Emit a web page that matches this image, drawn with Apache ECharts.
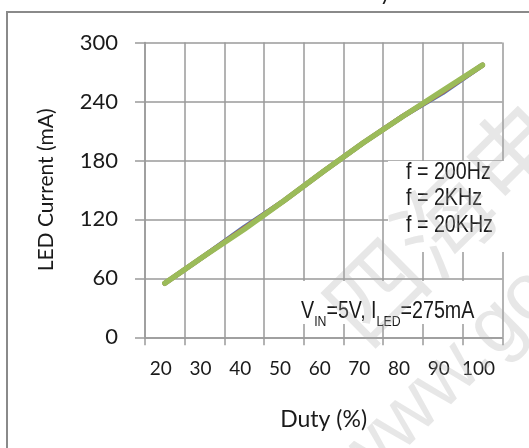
<!DOCTYPE html>
<html>
<head>
<meta charset="utf-8">
<script src="https://cdn.jsdelivr.net/npm/echarts@6/dist/echarts.min.js"></script>
<style>html,body{margin:0;padding:0;background:#fff;}#c{width:529px;height:448px;}</style>
</head>
<body>
<div id="c"></div>
<script>
const dutyLabels = ['20','30','40','50','60','70','80','90','100'];
const duty = [20,30,40,50,60,70,80,90,100];
const f200Hz = [55,83,112,139,169,198,225,249,277];
const f2KHz  = [55,83,111,139,169,198,225,250,277];
const f20KHz = [55,83,110,139,169,198,225,251,277];
const yTicks = {min:0, max:300, interval:60};
const seriesNames = ['f = 200Hz','f = 2KHz','f = 20KHz'];

const chart = echarts.init(document.getElementById('c'));
const pair = arr => duty.map((d,i)=>[d,arr[i]]);
const gridColor = '#9a9a9a';
const lab = {fontFamily:'Lato', color:'#1a1a1a'};
const arial = '"Liberation Sans",Arial,sans-serif';
const sx = 0.82;

chart.setOption({
  animation:false,
  grid:{left:145, right:26.7, top:42.5, bottom:110.7},
  xAxis:[{
    type:'category', data:dutyLabels, boundaryGap:true,
    name:'Duty (%)', nameLocation:'middle', nameGap:71,
    nameTextStyle:Object.assign({fontSize:23},lab),
    axisLine:{show:true, lineStyle:{color:gridColor, width:1.5}},
    axisTick:{show:true, length:8, lineStyle:{color:gridColor, width:1.5}},
    splitLine:{show:true, lineStyle:{color:gridColor, width:1.5}},
    axisLabel:Object.assign({fontSize:19, margin:22, interval:0, padding:[0,8,0,0]},lab)
  },{
    type:'value', min:15, max:105, show:false
  }],
  yAxis:{
    type:'value', min:yTicks.min, max:yTicks.max, interval:yTicks.interval,
    name:'LED Current (mA)', nameLocation:'middle', nameGap:88, nameRotate:90,
    nameTextStyle:Object.assign({fontSize:21},lab),
    axisLine:{show:true, lineStyle:{color:gridColor, width:1.5}},
    axisTick:{show:true, length:10, lineStyle:{color:gridColor, width:1.5}},
    splitLine:{show:true, lineStyle:{color:gridColor, width:1.5}},
    axisLabel:Object.assign({fontSize:22, margin:27},lab)
  },
  series:[
    {name:seriesNames[0], type:'line', xAxisIndex:1, data:pair(f200Hz), symbol:'none',
     lineStyle:{color:'#4F81BD', width:5, cap:'round'}},
    {name:seriesNames[1], type:'line', xAxisIndex:1, data:pair(f2KHz), symbol:'none',
     lineStyle:{color:'#C0504D', width:5, cap:'round'}},
    {name:seriesNames[2], type:'line', xAxisIndex:1, data:pair(f20KHz), symbol:'none',
     lineStyle:{color:'#9BBB59', width:5.5, cap:'round'}}
  ],
  graphic:[
    {type:'rect', z:100, shape:{x:7, y:12, width:560, height:470}, style:{fill:'none', stroke:'#8a8a8a', lineWidth:2}},
    {type:'text', z:100, x:391, y:-7, style:{text:'LED Current vs Duty', fontSize:22, fontFamily:'Lato', fill:'#1a1a1a', textAlign:'right', textVerticalAlign:'middle'}},
    {type:'rect', z:100, shape:{x:388, y:161, width:118, height:91}, style:{fill:'#fff'}},
    {type:'text', z:101, x:406, y:172, scaleX:sx, style:{text:seriesNames[0], fontSize:24, fontFamily:arial, fill:'#1a1a1a', textVerticalAlign:'middle'}},
    {type:'text', z:101, x:406, y:198.5, scaleX:sx, style:{text:seriesNames[1], fontSize:24, fontFamily:arial, fill:'#1a1a1a', textVerticalAlign:'middle'}},
    {type:'text', z:101, x:406, y:225, scaleX:sx, style:{text:seriesNames[2], fontSize:24, fontFamily:arial, fill:'#1a1a1a', textVerticalAlign:'middle'}},
    {type:'rect', z:100, shape:{x:290, y:281, width:210, height:43}, style:{fill:'#fff'}},
    {type:'text', z:101, x:301, y:295, scaleX:sx, style:{
      text:'{n|V}{s|IN}{n|=5V, I}{s|LED}{n|=275mA}', fill:'#1a1a1a',
      rich:{n:{fontSize:24, fontFamily:arial, lineHeight:28, verticalAlign:'bottom'},
            s:{fontSize:15, fontFamily:arial, lineHeight:22, verticalAlign:'bottom', padding:[0,0,-6,0]}}
    }},
    {type:'text', z:110, x:340, y:325, rotation:0.78, style:{text:'四海电', fontSize:98, fontFamily:'"Noto Sans CJK SC"', fill:'rgba(170,170,170,0.28)', textVerticalAlign:'middle'}},
    {type:'text', z:110, x:345, y:478, rotation:0.78, style:{text:'www.go', fontSize:80, fontFamily:arial, fill:'rgba(170,170,170,0.28)', textVerticalAlign:'middle'}}
  ]
});
</script>
</body>
</html>
